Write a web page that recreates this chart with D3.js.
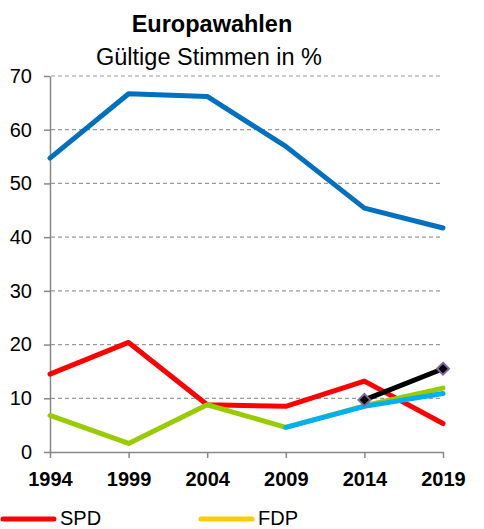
<!DOCTYPE html>
<html><head><meta charset="utf-8">
<script src="https://cdn.jsdelivr.net/npm/d3@7"></script>
<style>body{margin:0;background:#fff}svg{display:block;font-family:"Liberation Sans",Arial,sans-serif}</style>
</head><body>
<svg id="c" width="484" height="529"></svg>
<script>
const years = [1994, 1999, 2004, 2009, 2014, 2019];
const yTicks = [0, 10, 20, 30, 40, 50, 60, 70];
const csu    = [54.7, 66.7, 66.2, 56.9, 45.4, 41.7];
const spd    = [14.5, 20.4, 8.8, 8.5, 13.2, 5.3];
const gruene = [6.8, 1.6, 8.8, 4.6, 8.6, 11.9];
const fw     = [null, null, null, 4.6, 8.5, 10.9];
const afd    = [null, null, null, null, 9.7, 15.5];
const fdp    = [null, null, null, null, null, null];
const title = "Europawahlen";
const subtitle = "Gültige Stimmen in %";

const series = [
  {name: "CSU", values: csu, color: "#0070C0"},
  {name: "SPD", values: spd, color: "#FF0000"},
  {name: "FDP", values: fdp, color: "#FFCC00"},
  {name: "GRÜNE", values: gruene, color: "#99CC00"},
  {name: "FW", values: fw, color: "#00B0F0"},
  {name: "AfD", values: afd, color: "#000000", marker: true}
];
const legendItems = [series[1], series[2]];

const svg = d3.select("#c");
const x = d3.scalePoint().domain(years).range([50, 443]);
const y = d3.scaleLinear().domain([0, 70]).range([452, 76]);

svg.append("text").attr("x", 212).attr("y", 32).attr("text-anchor", "middle")
  .attr("font-size", 23.5).attr("font-weight", "bold").text(title);
svg.append("text").attr("x", 209).attr("y", 65).attr("text-anchor", "middle")
  .attr("font-size", 23.5).text(subtitle);

// gridlines
svg.append("g").selectAll("line").data(yTicks.filter(d => d > 0)).join("line")
  .attr("x1", 51).attr("x2", 443).attr("y1", d => y(d)).attr("y2", d => y(d))
  .attr("stroke", "#999").attr("stroke-width", 1.2).attr("stroke-dasharray", "4,3");

// y axis
const ya = svg.append("g").attr("transform", "translate(50,0)")
  .call(d3.axisLeft(y).tickValues(yTicks).tickSize(6).tickPadding(12).tickSizeOuter(0));
ya.select(".domain").attr("stroke", "#888").attr("stroke-width", 1.5);
ya.selectAll(".tick line").attr("stroke", "#888").attr("stroke-width", 1.5);
ya.selectAll("text").attr("font-size", 20).attr("fill", "#000").attr("font-family", "Liberation Sans, Arial, sans-serif");

// x axis
const xa = svg.append("g").attr("transform", "translate(0,452)")
  .call(d3.axisBottom(x).tickSize(6).tickPadding(14).tickSizeOuter(0));
xa.select(".domain").attr("stroke", "#888").attr("stroke-width", 1.5);
xa.selectAll(".tick line").attr("stroke", "#888").attr("stroke-width", 1.5);
xa.selectAll("text").attr("font-size", 20).attr("font-weight", "bold").attr("fill", "#000")
  .attr("font-family", "Liberation Sans, Arial, sans-serif");

// lines
const line = d3.line().defined(d => d.v != null).x(d => x(d.year)).y(d => y(d.v));
series.forEach(s => {
  const pts = years.map((yr, i) => ({year: yr, v: s.values[i]}));
  svg.append("path").datum(pts).attr("d", line).attr("fill", "none")
    .attr("stroke", s.color).attr("stroke-width", 5)
    .attr("stroke-linejoin", "round").attr("stroke-linecap", "round");
  if (s.marker) {
    svg.append("g").selectAll("path").data(pts.filter(d => d.v != null)).join("path")
      .attr("d", d3.symbol().type(d3.symbolDiamond2).size(90))
      .attr("transform", d => `translate(${x(d.year)},${y(d.v)})`)
      .attr("fill", "#000").attr("stroke", "#8064A2").attr("stroke-width", 2);
  }
});

// legend
const lg = svg.append("g");
legendItems.forEach((s, i) => {
  const lx = 3 + i * 198;
  lg.append("line").attr("x1", lx).attr("x2", lx + 51).attr("y1", 519).attr("y2", 519)
    .attr("stroke", s.color).attr("stroke-width", 5).attr("stroke-linecap", "round");
  lg.append("text").attr("x", lx + 57).attr("y", 525).attr("font-size", 20).text(s.name);
});
</script>
</body></html>
